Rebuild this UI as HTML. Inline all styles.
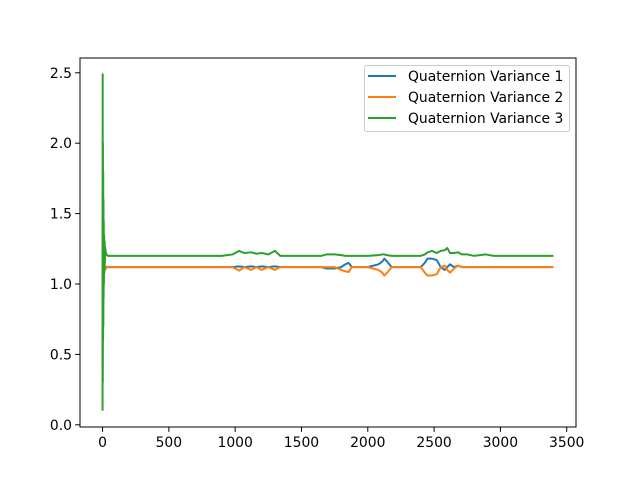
<!DOCTYPE html>
<html><head><meta charset="utf-8"><style>
body{margin:0;background:#fff}
svg{display:block;font-family:"DejaVu Sans","Liberation Sans",sans-serif}
</style></head><body>
<svg id="chart" width="640" height="480"></svg>
<script>
const xs   = [0,1,2,3,4,5,6,7,8,9,10,12,14,16,18,20,25,30,40,60,100,300,600,900,980,1030,1070,1120,1160,1200,1250,1300,1340,1400,1650,1690,1750,1800,1830,1855,1880,1920,2000,2080,2110,2125,2145,2180,2250,2400,2430,2450,2485,2520,2550,2580,2600,2620,2650,2680,2710,2750,2800,2890,2950,3100,3400];
const var1 = [0.4,1.5,0.6,1.4,0.8,1.3,0.9,1.25,1.0,1.2,1.05,1.15,1.08,1.14,1.1,1.13,1.11,1.12,1.12,1.12,1.12,1.12,1.12,1.12,1.12,1.125,1.12,1.125,1.12,1.125,1.12,1.125,1.12,1.12,1.12,1.11,1.11,1.12,1.14,1.15,1.12,1.12,1.12,1.14,1.16,1.18,1.16,1.12,1.12,1.12,1.15,1.18,1.18,1.17,1.12,1.10,1.12,1.14,1.12,1.13,1.12,1.12,1.12,1.12,1.12,1.12,1.12];
const var2 = [0.7,1.65,0.75,1.45,0.85,1.35,0.95,1.25,1.0,1.2,1.05,1.15,1.08,1.14,1.1,1.13,1.11,1.12,1.12,1.12,1.12,1.12,1.12,1.12,1.12,1.095,1.12,1.1,1.12,1.1,1.12,1.1,1.12,1.12,1.12,1.12,1.12,1.1,1.09,1.085,1.12,1.12,1.12,1.1,1.08,1.06,1.08,1.12,1.12,1.12,1.08,1.06,1.06,1.07,1.12,1.13,1.1,1.08,1.11,1.13,1.12,1.12,1.12,1.12,1.12,1.12,1.12];
const var3 = [0.1,2.49,0.3,2.0,0.6,1.8,0.7,1.6,0.9,1.45,1.0,1.35,1.1,1.3,1.15,1.26,1.22,1.21,1.2,1.2,1.2,1.2,1.2,1.2,1.21,1.235,1.22,1.225,1.215,1.22,1.21,1.235,1.2,1.2,1.2,1.21,1.21,1.205,1.2,1.2,1.2,1.2,1.2,1.205,1.21,1.21,1.205,1.2,1.2,1.2,1.21,1.225,1.235,1.22,1.235,1.24,1.255,1.22,1.22,1.225,1.21,1.21,1.2,1.21,1.2,1.2,1.2];
const xTicks = [0,500,1000,1500,2000,2500,3000,3500];
const yTicks = [0.0,0.5,1.0,1.5,2.0,2.5];
const seriesNames = ["Quaternion Variance 1","Quaternion Variance 2","Quaternion Variance 3"];
const colors = ["#1f77b4","#ff7f0e","#2ca02c"];

const NS="http://www.w3.org/2000/svg";
const svg=document.getElementById('chart');
const L=80,R=576,T=58,B=427;
const xMin=-170,xMax=3570,yMin=-0.0156,yMax=2.605;
const sx=v=>L+(v-xMin)/(xMax-xMin)*(R-L);
const sy=v=>B-(v-yMin)/(yMax-yMin)*(B-T);
function mk(tag,attrs,parent){const e=document.createElementNS(NS,tag);for(const k in attrs)e.setAttribute(k,attrs[k]);(parent||svg).appendChild(e);return e;}

[var1,var2,var3].forEach((arr,i)=>{
  const d=arr.map((v,j)=>(j?'L':'M')+sx(xs[j]).toFixed(2)+' '+sy(v).toFixed(2)).join(' ');
  const p=mk('path',{d:d,fill:'none',stroke:colors[i],'stroke-width':2,'stroke-linejoin':'round'});
  
  
});

const frame=mk('rect',{x:L,y:T,width:R-L,height:B-T,fill:'none',stroke:'#000','stroke-width':1});



xTicks.forEach(t=>{
  const x=sx(t);
  mk('line',{x1:x,x2:x,y1:B,y2:B+4.9,stroke:'#000','stroke-width':1});
  const tx=mk('text',{x:x,y:B+20,'text-anchor':'middle','font-size':13.9,fill:'#000'});
  tx.textContent=t;
  
  
});
yTicks.forEach(t=>{
  const y=sy(t);
  mk('line',{x1:L,x2:L-4.9,y1:y,y2:y,stroke:'#000','stroke-width':1});
  const tx=mk('text',{x:L-8,y:y+5,'text-anchor':'end','font-size':13.9,fill:'#000'});
  tx.textContent=t.toFixed(1);
  
  
});

const lg=mk('g',{});


mk('rect',{x:364.5,y:65.5,width:205,height:66,rx:2,fill:'#fff','fill-opacity':0.8,stroke:'#ccc','stroke-width':1},lg);
seriesNames.forEach((n,i)=>{
  const y=76+i*21;
  mk('line',{x1:368,x2:396,y1:y,y2:y,stroke:colors[i],'stroke-width':2},lg);
  const tx=mk('text',{x:408,y:y+5,'font-size':13.9,fill:'#000'},lg);
  tx.textContent=n;
  
  
});
</script>
</body></html>
